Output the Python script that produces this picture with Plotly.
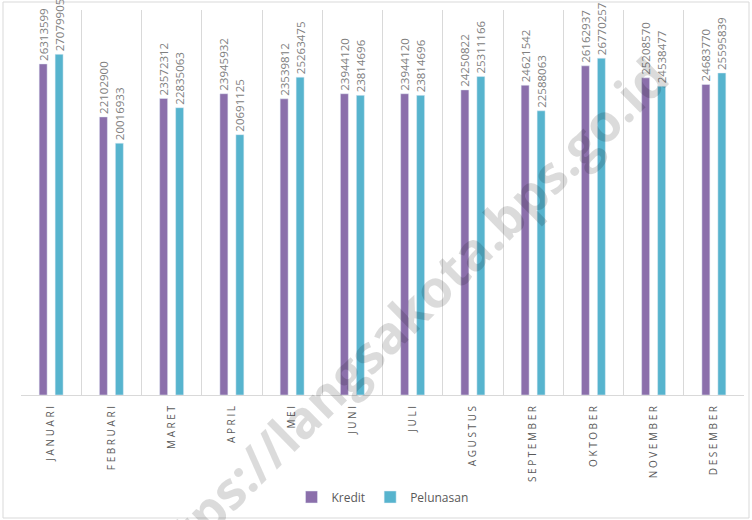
import plotly.graph_objects as go

months = ["JANUARI", "FEBRUARI", "MARET", "APRIL", "MEI", "JUNI", "JULI",
          "AGUSTUS", "SEPTEMBER", "OKTOBER", "NOVEMBER", "DESEMBER"]
kredit = [26313599, 22102900, 23572312, 23945932, 23539812, 23944120, 23944120,
          24250822, 24621542, 26162937, 25208570, 24683770]
pelunasan = [27079905, 20016933, 22835063, 20691125, 25263475, 23814696, 23814696,
             25311166, 22588063, 26770257, 24538477, 25595839]

SP = "\u00a0"
tick_text = [SP.join(list(m)) for m in months]

W, H = 752, 520
L, R, T, B = 21, 8, 10, 125
pw, ph = W - L - R, H - T - B

label_font = dict(family="Open Sans", size=11.5, color="#808080")

fig = go.Figure()
fig.add_trace(go.Bar(
    name="Kredit", x=months, y=kredit, marker_color="#8B6FAB",
    text=[str(v) for v in kredit], textposition="outside", textangle=-90,
    textfont=label_font, cliponaxis=False, constraintext="none",
))
fig.add_trace(go.Bar(
    name="Pelunasan", x=months, y=pelunasan, marker_color="#57B4CE",
    text=[str(v) for v in pelunasan], textposition="outside", textangle=-90,
    textfont=label_font, cliponaxis=False, constraintext="none",
))

def px_x(x):
    return (x - L) / pw

def px_y(y):
    return (H - B - y) / ph

fig.update_layout(
    width=W, height=H,
    margin=dict(l=L, r=R, t=T, b=B, autoexpand=False),
    paper_bgcolor="white", plot_bgcolor="white",
    barmode="group", bargap=0.47, bargroupgap=0.5,
    showlegend=True,
    legend=dict(orientation="h", x=0.5, xanchor="center", y=px_y(497), yanchor="middle",
                font=dict(family="Open Sans", size=12, color="#595959"),
                bgcolor="rgba(0,0,0,0)", itemwidth=30),
    xaxis=dict(
        tickmode="array", tickvals=months, ticktext=tick_text,
        tickangle=-90, tickson="boundaries", ticks="",
        showgrid=True, gridcolor="#d9d9d9", gridwidth=1,
        showline=True, linecolor="#d9d9d9", linewidth=1,
        tickfont=dict(family="Open Sans", size=10, color="#595959"),
        ticklabelstandoff=6, automargin=False,
    ),
    yaxis=dict(range=[0, 30.6e6], visible=False, showgrid=False, zeroline=False,
               automargin=False),
    shapes=[dict(type="rect", xref="paper", yref="paper",
                 x0=px_x(3), x1=px_x(749), y0=px_y(518), y1=px_y(2),
                 line=dict(color="#d9d9d9", width=1), fillcolor="rgba(0,0,0,0)",
                 layer="below")],
    annotations=[dict(text="<b>https://langsakota.bps.go.id</b>", xref="paper", yref="paper",
                      x=px_x(397), y=px_y(322), xanchor="center", yanchor="middle",
                      textangle=-44.5, showarrow=False,
                      font=dict(family="Open Sans", size=52, color="rgba(0,0,0,0.14)"))],
)

fig.write_html("out.html", config={"displayModeBar": False},
               post_script="document.body.style.margin='0';document.body.style.overflow='hidden';")
